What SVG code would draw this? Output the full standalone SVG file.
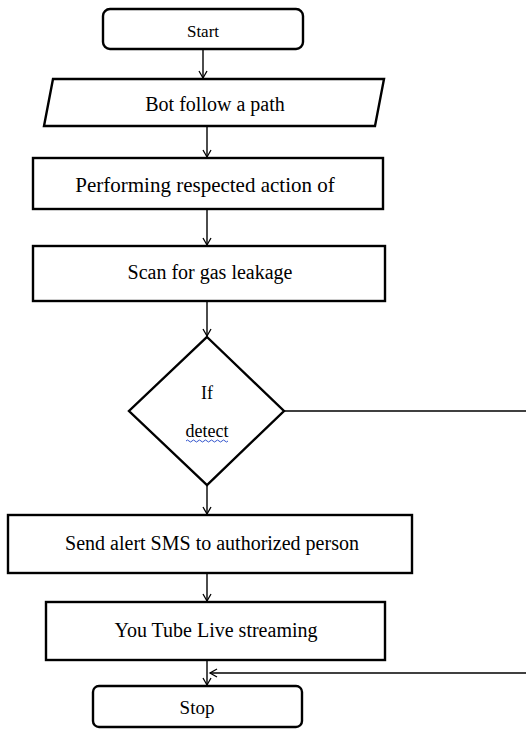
<svg xmlns="http://www.w3.org/2000/svg" width="526" height="729" viewBox="0 0 526 729">
<style>
.box{fill:#fff;stroke:#000;stroke-width:2.4}
.t{font-family:"Liberation Serif","Times New Roman",serif;font-size:20px;fill:#000;text-anchor:middle}
.ln{fill:none;stroke:#000;stroke-width:1.4}
</style>
<defs>
<marker id="ah" markerWidth="10" markerHeight="10" refX="8" refY="5" orient="auto" markerUnits="userSpaceOnUse">
<path d="M1,1 L8,5 L1,9" fill="none" stroke="#000" stroke-width="1.3"/>
</marker>
</defs>
<rect width="526" height="729" fill="#fff"/>
<g id="connectors">
<line class="ln" x1="203" y1="49" x2="203" y2="78" marker-end="url(#ah)"/>
<line class="ln" x1="207" y1="126" x2="207" y2="157" marker-end="url(#ah)"/>
<line class="ln" x1="207" y1="209" x2="207" y2="245" marker-end="url(#ah)"/>
<line class="ln" x1="207" y1="301" x2="207" y2="336" marker-end="url(#ah)"/>
<line class="ln" x1="207" y1="485" x2="207" y2="514" marker-end="url(#ah)"/>
<line class="ln" x1="207" y1="573" x2="207" y2="601" marker-end="url(#ah)"/>
<line class="ln" x1="207" y1="660" x2="207" y2="685" marker-end="url(#ah)"/>
<line class="ln" x1="284" y1="411" x2="526" y2="411"/>
<line class="ln" x1="526" y1="673" x2="210" y2="673" marker-end="url(#ah)"/>
</g>
<g id="start">
<rect class="box" x="103" y="9" width="200" height="40" rx="7"/>
<text class="t" x="203" y="37" style="font-size:17px">Start</text>
</g>
<g id="bot">
<polygon class="box" points="53,79 384,79 375,126 44,126"/>
<text class="t" x="215" y="111">Bot follow a path</text>
</g>
<g id="perform">
<rect class="box" x="33" y="158" width="350" height="51"/>
<text class="t" x="205" y="192" style="font-size:21px">Performing respected action of</text>
</g>
<g id="scan">
<rect class="box" x="33" y="246" width="352" height="55"/>
<text class="t" x="210" y="279">Scan for gas leakage</text>
</g>
<g id="decision">
<polygon class="box" points="207,337 284,411 207,485 129,411"/>
<text class="t" x="207" y="399" style="font-size:18px">If</text>
<text class="t" x="207" y="437" style="font-size:18px">detect</text>
<path d="M186,441 q1.5,-2 3,0 t3,0 t3,0 t3,0 t3,0 t3,0 t3,0 t3,0 t3,0 t3,0 t3,0 t3,0 t3,0 t3,0" fill="none" stroke="#3355cc" stroke-width="1"/>
</g>
<g id="send">
<rect class="box" x="8" y="515" width="404" height="58"/>
<text class="t" x="212" y="550">Send alert SMS to authorized person</text>
</g>
<g id="youtube">
<rect class="box" x="46" y="602" width="339" height="58"/>
<text class="t" x="216" y="637">You Tube Live streaming</text>
</g>
<g id="stop">
<rect class="box" x="93" y="686" width="209" height="41" rx="6"/>
<text class="t" x="197" y="714" style="font-size:19px">Stop</text>
</g>
</svg>
